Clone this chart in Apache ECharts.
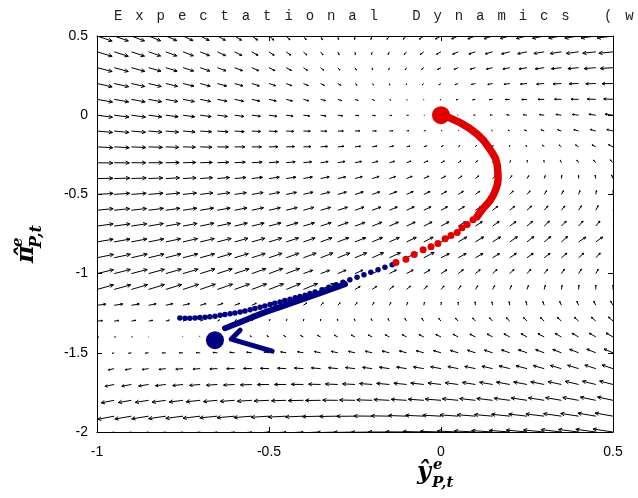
<!DOCTYPE html>
<html>
<head>
<meta charset="utf-8">
<script src="https://cdn.jsdelivr.net/npm/echarts@6/dist/echarts.min.js"></script>
<style>
  html, body { margin: 0; padding: 0; background: #fff; }
  #chart { width: 638px; height: 498px; }
</style>
</head>
<body>
<div id="chart"></div>
<script>
const xRange = [-1, 0.5]
const yRange = [-2, 0.5]

// red path: dense part (thick line) and the spaced dots after it
const redPath = [[0, 0], [0.047, -0.038], [0.105, -0.12], [0.142, -0.215], [0.163, -0.31],
  [0.166, -0.40], [0.157, -0.48], [0.142, -0.54], [0.122, -0.59], [0.105, -0.64]]
const redDots = [[0.093, -0.66], [0.076, -0.69], [0.061, -0.71], [0.047, -0.74], [0.029, -0.76],
  [0.012, -0.78], [-0.009, -0.81], [-0.029, -0.83], [-0.052, -0.85], [-0.078, -0.88],
  [-0.102, -0.91], [-0.131, -0.93]]
const redStart = [[0, 0]]

// blue path
const blueDots = [[-0.759, -1.280], [-0.744, -1.282], [-0.730, -1.282], [-0.715, -1.280], [-0.701, -1.277],
  [-0.686, -1.275], [-0.672, -1.273], [-0.657, -1.269], [-0.642, -1.263], [-0.628, -1.258],
  [-0.613, -1.254], [-0.599, -1.248], [-0.584, -1.242], [-0.570, -1.236], [-0.555, -1.229],
  [-0.541, -1.220], [-0.526, -1.212], [-0.512, -1.204], [-0.497, -1.195], [-0.483, -1.187],
  [-0.468, -1.179], [-0.454, -1.170], [-0.439, -1.162], [-0.424, -1.153], [-0.410, -1.145],
  [-0.395, -1.136], [-0.381, -1.126], [-0.366, -1.116], [-0.346, -1.102], [-0.326, -1.086],
  [-0.305, -1.070], [-0.285, -1.054], [-0.265, -1.039], [-0.244, -1.023], [-0.224, -1.007],
  [-0.204, -0.991], [-0.183, -0.975], [-0.163, -0.960], [-0.142, -0.944]]
const blueStrand = [[-0.628, -1.345], [-0.584, -1.307], [-0.526, -1.256], [-0.468, -1.212],
  [-0.410, -1.168], [-0.352, -1.124], [-0.279, -1.067]]
const blueHook = [[-0.584, -1.357], [-0.610, -1.414], [-0.491, -1.490]]
const blueEnd = [[-0.657, -1.420]]

// vector field grid
const fieldX = [-1, -0.95, -0.9, -0.85, -0.8, -0.75, -0.7, -0.65, -0.6, -0.55, -0.5, -0.45, -0.4, -0.35,
  -0.3, -0.25, -0.2, -0.15, -0.1, -0.05, 0, 0.05, 0.1, 0.15, 0.2, 0.25, 0.3, 0.35, 0.4, 0.45, 0.5]
const fieldY = [0.5, 0.4, 0.3, 0.2, 0.1, 0, -0.1, -0.2, -0.3, -0.4, -0.5, -0.6, -0.7, -0.8, -0.9,
  -1, -1.1, -1.2, -1.3, -1.4, -1.5, -1.6, -1.7, -1.8, -1.9, -2]
// horizontal component, thousandths of an x unit (one row per fieldY)
const fieldU = [
  [44,41,38,35,32,29,26,23,20,17,14,11,8,5,2,-1,-4,-7,-10,-13,-16,-19,-22,-25,-28,-31,-34,-37,-40,-43,-46],
  [44,41,38,35,32,30,27,24,21,18,15,13,10,7,4,1,-2,-4,-7,-10,-13,-16,-19,-21,-24,-27,-30,-33,-36,-38,-41],
  [44,41,39,36,33,31,28,25,23,20,17,15,12,9,6,4,1,-2,-4,-7,-10,-12,-15,-18,-20,-23,-26,-29,-31,-34,-37],
  [44,42,39,37,34,32,29,27,24,22,19,16,14,11,9,6,4,1,-1,-4,-6,-9,-12,-14,-17,-19,-22,-24,-27,-29,-32],
  [45,42,40,38,35,33,30,28,26,23,21,18,16,14,11,9,6,4,2,-1,-3,-6,-8,-10,-13,-15,-18,-20,-22,-25,-27],
  [45,43,41,38,36,34,32,29,27,25,23,20,18,16,14,11,9,7,5,2,0,-2,-5,-7,-9,-11,-14,-16,-18,-20,-23],
  [45,43,41,39,37,35,33,31,28,26,24,22,20,18,16,14,12,10,7,5,3,1,-1,-3,-5,-7,-9,-11,-14,-16,-18],
  [46,44,42,40,38,36,34,32,30,28,26,24,22,20,18,16,14,12,10,8,6,5,3,1,-1,-3,-5,-7,-9,-11,-13],
  [46,44,42,40,39,37,35,33,31,30,28,26,24,22,21,19,17,15,13,12,10,8,6,4,2,1,-1,-3,-5,-7,-8],
  [46,45,43,41,40,38,36,35,33,31,30,28,26,25,23,21,20,18,16,15,13,11,10,8,6,5,3,1,0,-2,-4],
  [47,45,43,42,40,39,37,36,34,33,31,30,28,27,25,24,22,21,19,18,16,15,13,12,10,9,7,6,4,2,1],
  [47,45,44,43,41,40,39,37,36,34,33,32,30,29,28,26,25,23,22,21,19,18,17,15,14,13,11,10,8,7,6],
  [47,46,45,43,42,41,40,39,37,36,35,34,32,31,30,29,28,26,25,24,23,21,20,19,18,16,15,14,13,12,10],
  [47,46,45,44,43,42,41,40,39,38,37,36,34,33,32,31,30,29,28,27,26,25,24,23,22,20,19,18,21,20,19],
  [48,47,46,45,44,43,42,41,40,39,38,37,37,36,35,34,33,32,31,30,24,23,22,20,19,18,17,16,15,13,12],
  [48,47,46,46,45,44,43,43,42,41,40,39,27,26,24,23,22,20,19,18,17,15,14,13,12,11,10,9,8,7,6],
  [48,48,47,46,46,45,44,44,43,43,42,41,41,40,16,15,13,12,11,10,9,8,7,6,5,4,3,2,1,0,0],
  [26,25,23,22,20,19,17,16,15,13,12,11,10,8,7,6,5,4,3,2,1,0,-1,-2,-2,-3,-4,-5,-5,-6,-7],
  [16,14,13,12,10,9,8,6,5,4,3,2,1,0,-1,-2,-3,-4,-5,-6,-7,-8,-8,-9,-10,-10,-11,-12,-12,-13,-13],
  [5,4,3,1,0,-1,-2,-3,-4,-5,-6,-7,-8,-9,-10,-11,-12,-12,-13,-14,-15,-15,-16,-16,-17,-17,-18,-18,-19,-19,-20],
  [-5,-6,-8,-9,-10,-11,-12,-13,-14,-15,-15,-16,-17,-18,-19,-19,-20,-21,-21,-22,-22,-23,-23,-24,-24,-25,-25,-25,-26,-26,-26],
  [-16,-17,-18,-19,-20,-21,-21,-22,-23,-24,-25,-25,-26,-27,-27,-28,-28,-29,-29,-30,-30,-30,-31,-31,-31,-32,-32,-32,-32,-32,-32],
  [-26,-27,-28,-29,-30,-30,-31,-32,-32,-33,-34,-34,-35,-35,-36,-36,-37,-37,-37,-38,-38,-38,-38,-38,-39,-39,-39,-39,-39,-39,-39],
  [-37,-38,-38,-39,-40,-40,-41,-41,-42,-42,-43,-43,-44,-44,-44,-45,-45,-45,-45,-45,-46,-46,-46,-46,-46,-46,-46,-46,-46,-45,-45],
  [-47,-48,-48,-49,-50,-50,-50,-51,-51,-52,-52,-52,-52,-53,-53,-53,-53,-53,-53,-53,-53,-53,-53,-53,-53,-53,-53,-52,-52,-52,-52],
  [-58,-58,-59,-59,-59,-60,-60,-60,-61,-61,-61,-61,-61,-61,-61,-62,-61,-61,-61,-61,-61,-61,-61,-61,-60,-60,-60,-59,-59,-58,-58]
]
// vertical component, thousandths of a y unit
const fieldV = [
  [-32,-31,-31,-30,-29,-29,-28,-27,-27,-26,-26,-25,-24,-24,-23,-22,-22,-21,-20,-20,-19,-18,-18,-17,-16,-16,-15,-14,-14,-13,-13],
  [-28,-28,-27,-26,-26,-25,-24,-24,-23,-22,-22,-21,-20,-20,-19,-18,-18,-17,-17,-16,-15,-15,-14,-13,-13,-12,-11,-11,-10,-9,-9],
  [-24,-24,-23,-22,-22,-21,-21,-20,-19,-19,-18,-17,-17,-16,-15,-15,-14,-13,-13,-12,-11,-11,-10,-9,-9,-8,-8,-7,-6,-6,-5],
  [-21,-20,-19,-19,-18,-17,-17,-16,-15,-15,-14,-13,-13,-12,-12,-11,-10,-10,-9,-8,-8,-7,-6,-6,-5,-4,-4,-3,-2,-2,-1],
  [-17,-16,-16,-15,-14,-14,-13,-12,-12,-11,-10,-10,-9,-8,-8,-7,-6,-6,-5,-4,-4,-3,-3,-2,-1,-1,0,1,1,2,3],
  [-13,-12,-12,-11,-10,-10,-9,-8,-8,-7,-7,-6,-5,-5,-4,-3,-3,-2,-1,-1,0,1,1,2,3,3,4,5,5,6,7],
  [-9,-9,-8,-7,-7,-6,-5,-5,-4,-3,-3,-2,-1,-1,0,1,1,2,3,3,4,4,5,6,6,7,8,8,9,10,10],
  [-5,-5,-4,-3,-3,-2,-2,-1,0,0,1,2,2,3,4,4,5,6,6,7,8,8,9,10,10,11,12,12,13,13,14],
  [-2,-1,0,0,1,2,2,3,4,4,5,6,6,7,8,8,9,9,10,11,11,12,13,13,14,15,15,16,17,17,18],
  [2,3,4,4,5,5,6,7,7,8,9,9,10,11,11,12,13,13,14,15,15,16,17,17,18,18,19,20,20,21,22],
  [6,7,7,8,9,9,10,11,11,12,13,13,14,14,15,16,16,17,18,18,19,20,20,21,22,22,23,24,24,25,26],
  [10,10,11,12,12,13,14,14,15,16,16,17,18,18,19,20,20,21,22,22,23,23,24,25,25,26,27,27,28,29,29],
  [14,14,15,16,16,17,18,18,19,19,20,21,21,22,23,23,24,25,25,26,27,27,28,29,29,30,31,31,32,32,33],
  [17,18,19,19,20,21,21,22,23,23,24,25,25,26,27,27,28,28,29,30,30,31,32,32,33,34,34,35,30,31,31],
  [21,22,23,23,24,24,25,26,26,27,28,28,29,30,30,31,32,32,33,34,26,27,27,27,28,28,28,29,29,30,30],
  [25,26,26,27,28,28,29,30,30,31,32,32,21,21,22,22,22,23,23,24,24,25,25,26,26,27,27,28,28,28,29],
  [29,29,30,31,31,32,33,33,34,35,35,36,37,37,19,19,20,21,21,22,22,23,23,24,25,25,26,26,27,27,28],
  [7,8,8,9,10,10,11,12,12,13,14,14,15,16,16,17,18,18,19,20,20,21,22,22,23,24,24,25,26,26,27],
  [3,4,5,5,6,7,8,8,9,10,11,11,12,13,14,14,15,16,17,18,18,19,20,21,21,22,23,24,24,25,26],
  [-1,0,1,2,2,3,4,5,6,7,8,9,9,10,11,12,13,14,15,15,16,17,18,19,20,21,21,22,23,24,25],
  [-5,-4,-3,-2,-1,0,1,2,3,4,5,6,7,8,9,9,10,11,12,13,14,15,16,17,18,19,20,21,22,23,24],
  [-9,-8,-7,-6,-5,-4,-3,-2,0,1,2,3,4,5,6,7,8,9,10,11,12,13,14,15,17,18,19,20,21,22,23],
  [-13,-12,-11,-10,-8,-7,-6,-5,-4,-3,-1,0,1,2,3,4,6,7,8,9,10,11,13,14,15,16,17,18,20,21,22],
  [-17,-16,-14,-13,-12,-11,-9,-8,-7,-6,-4,-3,-2,-1,1,2,3,5,6,7,8,10,11,12,13,15,16,17,18,20,21],
  [-21,-20,-18,-17,-16,-14,-13,-11,-10,-9,-7,-6,-5,-3,-2,-1,1,2,4,5,6,8,9,10,12,13,14,16,17,19,20],
  [-25,-24,-22,-21,-19,-18,-16,-15,-13,-12,-10,-9,-7,-6,-4,-3,-2,0,1,3,4,6,7,9,10,12,13,15,16,17,19]
]

const field = []
fieldY.forEach((y, j) => {
  fieldX.forEach((x, i) => {
    field.push([x, y, fieldU[j][i] / 1000, fieldV[j][i] / 1000])
  })
})

const chart = echarts.init(document.getElementById('chart'))

const axisCommon = {
  type: 'value',
  axisLine: { show: true, onZero: false, lineStyle: { color: '#000', width: 1 } },
  axisTick: { show: true, inside: true, length: 5, lineStyle: { color: '#000' } },
  splitLine: { show: false }
}

const title = 'Expectational Dynamics (w'
const titleEls = title.split('').map((c, i) => ({
  type: 'text',
  left: 114 + i * 21.3,
  top: 9,
  style: { text: c, font: '14px "Liberation Mono"', fill: '#222' }
}))

const option = {
  animation: false,
  backgroundColor: '#fff',
  grid: { left: 97, right: 25, top: 36, bottom: 66 },
  xAxis: [
    Object.assign({}, axisCommon, {
      min: xRange[0], max: xRange[1], interval: 0.5, position: 'bottom',
      axisLabel: { color: '#000', fontSize: 14, fontFamily: 'Liberation Sans', margin: 13 }
    }),
    Object.assign({}, axisCommon, {
      min: xRange[0], max: xRange[1], interval: 0.5, position: 'top',
      axisLabel: { show: false }
    })
  ],
  yAxis: [
    Object.assign({}, axisCommon, {
      min: yRange[0], max: yRange[1], interval: 0.5, position: 'left',
      axisLabel: { color: '#000', fontSize: 14, fontFamily: 'Liberation Sans', margin: 9 }
    }),
    Object.assign({}, axisCommon, {
      min: yRange[0], max: yRange[1], interval: 0.5, position: 'right',
      axisLabel: { show: false }
    })
  ],
  graphic: titleEls.concat([
    { type: 'text', left: 417, top: 461, style: { text: 'ŷ', font: 'italic bold 24px "DejaVu Serif"', fill: '#000' } },
    { type: 'text', left: 433, top: 458, style: { text: 'e', font: 'italic bold 15px "DejaVu Serif"', fill: '#000' } },
    { type: 'text', left: 432, top: 476, style: { text: 'P,t', font: 'italic bold 15px "DejaVu Serif"', fill: '#000' } },
    {
      type: 'group', x: 15, y: 263, rotation: Math.PI / 2,
      children: [
        { type: 'text', x: 0, y: 0, style: { text: 'π̂', font: 'italic bold 24px "DejaVu Serif"', fill: '#000' } },
        { type: 'text', x: 16, y: -4, style: { text: 'e', font: 'italic bold 15px "DejaVu Serif"', fill: '#000' } },
        { type: 'text', x: 15, y: 14, style: { text: 'P,t', font: 'italic bold 16px "DejaVu Serif"', fill: '#000' } }
      ]
    }
  ]),
  series: [
    {
      type: 'custom',
      data: field,
      silent: true,
      clip: true,
      renderItem: function (params, api) {
        const p0 = api.coord([api.value(0), api.value(1)])
        const p1 = api.coord([api.value(0) + api.value(2), api.value(1) + api.value(3)])
        const dx = p1[0] - p0[0], dy = p1[1] - p0[1]
        const len = Math.hypot(dx, dy)
        if (len < 0.4) return null
        const ang = Math.atan2(dy, dx)
        const h = Math.min(len * 0.3, 4)
        const b1 = [p1[0] - h * Math.cos(ang - 0.45), p1[1] - h * Math.sin(ang - 0.45)]
        const b2 = [p1[0] - h * Math.cos(ang + 0.45), p1[1] - h * Math.sin(ang + 0.45)]
        return {
          type: 'group',
          children: [
            { type: 'polyline', shape: { points: [p0, p1] }, style: { stroke: '#000', lineWidth: 1, fill: null } },
            { type: 'polyline', shape: { points: [b1, p1, b2] }, style: { stroke: '#000', lineWidth: 1, fill: null } }
          ]
        }
      }
    },
    { type: 'line', data: blueStrand, symbol: 'none', smooth: true, lineStyle: { color: '#000080', width: 6, cap: 'round' } },
    { type: 'line', data: blueHook, symbol: 'none', lineStyle: { color: '#000080', width: 5, cap: 'round', join: 'round' } },
    { type: 'scatter', data: blueDots, symbolSize: 5.5, itemStyle: { color: '#000080', opacity: 1 } },
    { type: 'scatter', data: blueEnd, symbolSize: 18, itemStyle: { color: '#000080', opacity: 1 } },
    { type: 'line', data: redPath, symbol: 'none', smooth: true, lineStyle: { color: '#e00000', width: 7.5, cap: 'round' } },
    { type: 'scatter', data: redDots, symbolSize: 7, itemStyle: { color: '#e00000', opacity: 1 } },
    { type: 'scatter', data: redStart, symbolSize: 18, itemStyle: { color: '#e00000', opacity: 1 } }
  ]
}

chart.setOption(option)
</script>
</body>
</html>
